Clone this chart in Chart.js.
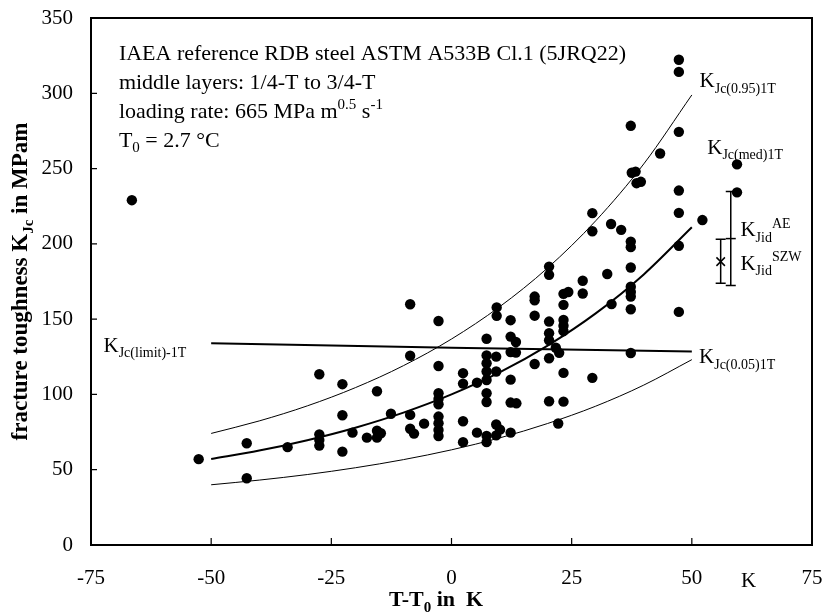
<!DOCTYPE html>
<html>
<head>
<meta charset="utf-8">
<script src="https://cdn.jsdelivr.net/npm/chart.js@4.4.1/dist/chart.umd.min.js"></script>
<style>
    body { margin: 0; background: #fff; }
    #wrap { width: 822px; height: 614px; }
</style>
</head>
<body>
<div id="wrap"><canvas id="chart" width="822" height="614"></canvas></div>
<script>
// specimen results: T-T0 in K, KJc in MPa m^0.5
var testT = [
    -66.5, -52.6, -42.6, -42.6, -34.1, -27.5, -27.5, -27.5, -27.5, -22.7,
    -22.7, -22.7, -20.6, -17.6, -15.5, -15.5, -14.7, -15.5, -12.6, -8.6,
    -8.6, -8.6, -8.6, -7.8, -5.7, -2.7, -2.7, -2.7, -2.7, -2.7,
    -2.7, -2.7, -2.7, -2.7, 2.4, 2.4, 2.4, 2.4, 5.3, 5.3,
    7.3, 7.3, 7.3, 7.3, 7.3, 7.3, 7.3, 7.3, 7.3, 9.4,
    9.4, 9.3, 9.3, 9.3, 10.1, 9.3, 12.3, 12.3, 13.4, 12.3,
    13.4, 12.3, 12.3, 13.5, 12.3, 17.3, 17.3, 17.3, 17.3, 20.3,
    20.3, 20.3, 20.3, 20.3, 21.7, 22.4, 20.3, 20.3, 22.2, 23.3,
    24.3, 23.3, 23.3, 23.3, 23.3, 23.3, 23.3, 27.3, 27.3, 29.3,
    29.3, 29.3, 33.2, 35.3, 32.4, 33.3, 37.3, 37.5, 38.3, 38.5,
    39.4, 37.3, 37.3, 37.3, 37.3, 37.3, 37.3, 37.3, 37.3, 43.4,
    47.3, 47.3, 47.3, 47.3, 47.3, 47.3, 47.3, 52.2, 59.4, 59.4
];
var testK = [
    229, 57, 67.6, 44.3, 65, 113.4, 73.5, 69.8, 66, 106.8,
    86.2, 62, 74.6, 71.3, 102.1, 75.9, 74.2, 71.3, 87.2, 159.9,
    125.7, 86.4, 77.2, 74, 80.6, 148.8, 118.9, 100.8, 97, 93.5,
    85.3, 80.9, 76.4, 72.4, 114.1, 107.2, 82.2, 68.3, 107.8, 74.6,
    137, 125.9, 120.7, 115.2, 109.6, 100.8, 95, 72.5, 68.3, 157.8,
    152.2, 125.1, 115.2, 80, 76.6, 72.8, 149.3, 138.4, 134.8, 128.1,
    127.8, 109.8, 94.6, 94.1, 74.6, 165, 162.5, 152.3, 120.2, 184.9,
    179.4, 148.4, 140.7, 136, 131, 127.6, 124, 95.5, 80.7, 166.8,
    168, 159.5, 149.5, 145.6, 142, 114.3, 95.2, 175.5, 167, 220.4,
    208.4, 111, 213.2, 209.3, 180, 160, 278.4, 247.2, 248, 240.3,
    241.2, 201.5, 197.8, 184.3, 171.5, 168, 165, 156.6, 127.5, 260,
    322.3, 314.2, 274.4, 235.4, 220.6, 198.7, 154.8, 215.8, 252.8, 234.2
];

// master curves
var curveT = [-50, -40, -30, -20, -10, 0, 10, 20, 30, 40, 50];
var curveMed = [57.1, 62.7, 69.6, 77.9, 87.9, 100, 114.6, 132.4, 153.8, 179.7, 211.0];
var curve95 = [74.1, 82.4, 92.4, 104.5, 119.1, 136.8, 158.2, 184.0, 215.3, 253.1, 298.9];
var curve05 = [40.0, 43.1, 46.8, 51.3, 56.7, 63.2, 71.1, 80.7, 92.2, 106.2, 123.1];

var limitT = [-50, 0, 50];
var limitK = [134, 131, 128.5];

// dynamic initiation values: AE, SZW
var jidT = [58.1, 56.0];
var jidK = [203.5, 188.2];
var jidLo = [172.3, 173.9];
var jidHi = [234.8, 203.1];

var serif = '"Liberation Serif", "Times New Roman", serif';

var pairs = function(xs, ys) {
    return xs.map(function(x, i) { return {x: x, y: ys[i]}; });
};

// draws text with sub/superscript parts: [[text, ''|'sub'|'sup'], ...]
var richText = function(ctx, x, y, parts, size, bold, align) {
    var fontOf = function(mode) {
        return (bold ? 'bold ' : '') + (mode ? Math.round(size * 0.66) : size) + 'px ' + serif;
    };
    var total = 0;
    parts.forEach(function(p) {
        ctx.font = fontOf(p[1]);
        total += ctx.measureText(p[0]).width;
    });
    if (align === 'center') x -= total / 2;
    ctx.textAlign = 'left';
    ctx.textBaseline = 'alphabetic';
    parts.forEach(function(p) {
        ctx.font = fontOf(p[1]);
        var dy = p[1] === 'sub' ? size * 0.26 : (p[1] === 'sup' ? -size * 0.42 : 0);
        ctx.fillText(p[0], x, y + dy);
        x += ctx.measureText(p[0]).width;
    });
};

var notes = [
    {t: 51.6, k: 304, parts: [['K', ''], ['Jc(0.95)1T', 'sub']]},
    {t: 53.2, k: 259.8, parts: [['K', ''], ['Jc(med)1T', 'sub']]},
    {t: 51.5, k: 120.7, parts: [['K', ''], ['Jc(0.05)1T', 'sub']]},
    {t: -72.4, k: 128.4, parts: [['K', ''], ['Jc(limit)-1T', 'sub']]},
    {t: 60.1, k: 204.9, parts: [['K', ''], ['Jid', 'sub'], ['AE', 'sup']]},
    {t: 60.1, k: 182.7, parts: [['K', ''], ['Jid', 'sub'], ['SZW', 'sup']]}
];

var infoLines = [
    [['IAEA reference RDB steel ASTM A533B Cl.1 (5JRQ22)', '']],
    [['middle layers: 1/4-T to 3/4-T', '']],
    [['loading rate: 665 MPa m', ''], ['0.5', 'sup'], [' s', ''], ['-1', 'sup']],
    [['T', ''], ['0', 'sub'], [' = 2.7 \u00B0C', '']]
];

var decorations = {
    id: 'decorations',
    afterDraw: function(chart) {
        var ctx = chart.ctx;
        var area = chart.chartArea;
        var xs = chart.scales.x;
        var ys = chart.scales.y;
        ctx.save();
        ctx.strokeStyle = '#000';
        ctx.fillStyle = '#000';

        // frame and inward ticks
        ctx.lineWidth = 2;
        ctx.strokeRect(area.left, area.top, area.right - area.left, area.bottom - area.top);
        ctx.lineWidth = 1.2;
        ctx.beginPath();
        xs.ticks.forEach(function(t) {
            if (t.value <= xs.min || t.value >= xs.max) return;
            var px = xs.getPixelForValue(t.value);
            ctx.moveTo(px, area.bottom);
            ctx.lineTo(px, area.bottom - 7);
        });
        ys.ticks.forEach(function(t) {
            if (t.value <= ys.min || t.value >= ys.max) return;
            var py = ys.getPixelForValue(t.value);
            ctx.moveTo(area.left, py);
            ctx.lineTo(area.left + 6, py);
        });
        ctx.stroke();

        // error bars
        ctx.lineWidth = 1.5;
        ctx.beginPath();
        jidT.forEach(function(t, i) {
            var px = xs.getPixelForValue(t);
            var lo = ys.getPixelForValue(jidLo[i]);
            var hi = ys.getPixelForValue(jidHi[i]);
            ctx.moveTo(px, lo); ctx.lineTo(px, hi);
            ctx.moveTo(px - 5, lo); ctx.lineTo(px + 5, lo);
            ctx.moveTo(px - 5, hi); ctx.lineTo(px + 5, hi);
        });
        ctx.stroke();

        // curve labels
        notes.forEach(function(n) {
            richText(ctx, xs.getPixelForValue(n.t), ys.getPixelForValue(n.k), n.parts, 21, false);
        });

        // info block
        var bx = xs.getPixelForValue(-69.2);
        var by = ys.getPixelForValue(321.8);
        infoLines.forEach(function(line, i) {
            richText(ctx, bx, by + i * 28.7, line, 22, false);
        });

        // axis titles
        richText(ctx, xs.getPixelForValue(-3.2), 606,
            [['T-T', ''], ['0', 'sub'], [' in  K', '']], 22, true, 'center');
        ctx.font = '21px ' + serif;
        ctx.textAlign = 'center';
        ctx.textBaseline = 'alphabetic';
        ctx.fillText('K', xs.getPixelForValue(61.8), 587);

        ctx.translate(27, (area.top + area.bottom) / 2);
        ctx.rotate(-Math.PI / 2);
        richText(ctx, 0, 0,
            [['fracture toughness K', ''], ['Jc', 'sub'], [' in MPam', '']], 23, true, 'center');
        ctx.restore();
    }
};

var lineSet = function(xs, ys, width) {
    return {
        type: 'line',
        data: pairs(xs, ys),
        borderColor: '#000',
        borderWidth: width,
        pointRadius: 0,
        fill: false,
        cubicInterpolationMode: 'monotone'
    };
};

var tickFont = {family: serif, size: 21};

new Chart(document.getElementById('chart').getContext('2d'), {
    type: 'scatter',
    data: {
        datasets: [
            lineSet(curveT, curveMed, 2),
            lineSet(curveT, curve95, 1),
            lineSet(curveT, curve05, 1),
            lineSet(limitT, limitK, 2),
            {
                data: pairs(testT, testK),
                backgroundColor: '#000',
                borderWidth: 0,
                pointRadius: 5.2
            },
            {
                data: [{x: jidT[0], y: jidK[0]}],
                pointStyle: 'line',
                pointRadius: 5,
                borderColor: '#000',
                borderWidth: 1.5
            },
            {
                data: [{x: jidT[1], y: jidK[1]}],
                pointStyle: 'crossRot',
                pointRadius: 6,
                borderColor: '#000',
                borderWidth: 1.5
            }
        ]
    },
    options: {
        responsive: false,
        animation: false,
        layout: {padding: {top: 18, right: 10, left: 0, bottom: 0}},
        plugins: {legend: {display: false}, tooltip: {enabled: false}},
        scales: {
            x: {
                type: 'linear',
                min: -75,
                max: 75,
                ticks: {stepSize: 25, color: '#000', font: tickFont, padding: 21, maxRotation: 0},
                grid: {drawOnChartArea: false, drawTicks: false},
                border: {display: false},
                afterFit: function(scale) {
                    scale.height = 69;
                    scale.paddingLeft = 0;
                    scale.paddingRight = 0;
                }
            },
            y: {
                min: 0,
                max: 350,
                ticks: {stepSize: 50, color: '#000', font: tickFont, padding: 18},
                grid: {drawOnChartArea: false, drawTicks: false},
                border: {display: false},
                afterFit: function(scale) {
                    scale.width = 91;
                    scale.paddingTop = 0;
                    scale.paddingBottom = 0;
                }
            }
        }
    },
    plugins: [decorations]
});
</script>
</body>
</html>
